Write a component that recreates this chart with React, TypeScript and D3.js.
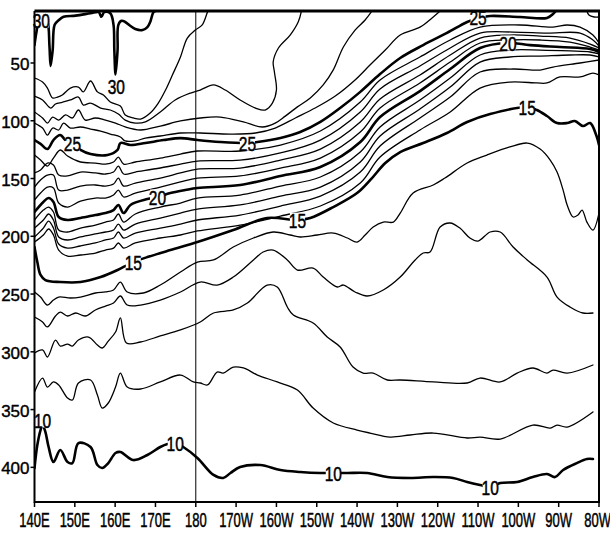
import React from 'react'
import * as d3 from 'd3'

type Pt = [number, number] // [longitude (deg E), depth (m)]

const lonTicks = [140, 150, 160, 170, 180, 190, 200, 210, 220, 230, 240, 250, 260, 270, 280]
const lonLabels = ['140E', '150E', '160E', '170E', '180', '170W', '160W', '150W', '140W', '130W', '120W', '110W', '100W', '90W', '80W']
const depthTicks = [50, 100, 150, 200, 250, 300, 350, 400]
const thickLevels = [10, 15, 20, 25, 30]

const iso30: Pt[] = [[140,34.5],[140.5,23],[141,16],[142.5,13],[143.2,14.5],[143.7,34.5],[144,52.6],[144.5,39],[145,17],[146,13],[147.2,10],[150.2,9],[153.9,7],[155.9,6],[156.6,10],[157.3,6],[158.8,7],[159.6,17],[159.8,39],[160.1,60],[160.6,39],[160.8,17],[161.6,13.5],[162.5,14.5],[163.8,18],[165,20.6],[166.8,21.5],[168,19],[168.7,14.5],[169.5,6],[170,5]]
const iso29: Pt[] = [[140,63],[142,66.5],[143.2,71.7],[144.5,80.3],[145.7,79.5],[146.9,77.7],[148.9,71.7],[150.9,70.8],[152.1,75],[153.9,65.6],[155.6,75],[157.1,77.7],[158.8,83.8],[161.3,87.3],[162.5,95],[164.5,97.6],[166.3,98.5],[168.7,93.3],[170.7,84.7],[172.5,73.4],[174.2,60.4],[176.2,44.8],[177.9,28.4],[179.9,21.5],[181.6,17],[182.9,6],[183.1,5]]
const iso28: Pt[] = [[140,78.6],[142,82],[144,89],[145.2,85.5],[146.9,84],[148.9,82],[150.9,79.5],[152.1,86.4],[153.9,84.7],[156.4,89],[158.8,90.7],[160.8,94.2],[162.5,99.4],[165,102],[167.5,101],[171.2,92.4],[174.9,82],[178.7,76],[181.1,73.4],[184.4,69],[187.3,73.4],[191,82],[194.8,89],[197.2,90.7],[199,84.7],[200,73.4],[199.5,57.8],[199.2,49],[200.5,37],[203.4,25.8],[205.4,14.5],[206.2,5]]
const iso27: Pt[] = [[140,92.4],[142,97.6],[143.2,102],[144.5,96.8],[146,99.4],[147.7,95],[149.4,97.6],[150.9,90.7],[152.6,99.4],[155.1,97.6],[157.6,99.4],[160.1,102],[162.5,105.4],[166.3,108],[171.2,104.6],[176.2,100.2],[181.1,97.6],[186.1,96.8],[191.8,101],[196.5,105.4],[199.7,102],[202.2,96],[205.2,88],[208.4,80.3],[211.6,69],[214.1,56],[216.6,36.2],[219.5,21.5],[222,12.8],[223.7,5]]
const iso26: Pt[] = [[140,102],[142,106.3],[143.2,112.4],[144.5,106.3],[146,108],[147.2,102],[148.9,106.3],[151.4,105.4],[153.9,107.2],[156.4,108.9],[158.8,111.5],[161.3,114.1],[162.5,117.5],[165,117.5],[167.5,115],[171.2,113.2],[176.2,110.6],[181.1,110.6],[188.6,111.5],[194.8,110.6],[199.7,106.3],[204.7,97.6],[209.6,89],[214.6,78.6],[219.5,64.7],[223.2,51.8],[227,38.8],[230.7,25.8],[235.6,19],[238.6,11],[240.6,5]]
const iso25: Pt[] = [[140,116.7],[141.5,120],[143.2,124.5],[144.7,116.7],[146.4,112.4],[147.7,116.7],[149.4,119.3],[151.4,125.3],[153.9,128.8],[158.1,129.7],[160.6,125.3],[161.3,119.3],[163.8,121],[167.5,119.3],[172,116.7],[176.2,115],[180.4,116.7],[186.1,118.4],[192.8,119.3],[195.3,118.4],[201,114.9],[205.9,109.8],[210.9,101],[215.8,89],[220.8,75],[225.7,59.6],[230.7,45.7],[236.4,34.5],[242.3,24],[247.3,14.5],[250,11],[253,9.3],[260.4,10.2],[267.1,11],[268.6,7.6],[269.3,5]]
const iso24: Pt[] = [[140,129.7],[141.5,134],[143.2,139.2],[144.7,132.3],[146.4,125.3],[148.2,130.5],[151.4,135.7],[155.1,136.6],[157.6,137.5],[159.6,135.7],[160.8,131.4],[162.1,137.5],[165,135.7],[171.2,132.3],[176.2,128.8],[180.4,126.2],[191,126.2],[201,121],[210.9,108.9],[220.8,83.8],[225.7,64.7],[235.6,44.8],[243.1,30.1],[250.5,18.9],[260.4,17.1],[268.6,18.9],[272.1,17.1],[275.3,18.9],[278.5,25.8],[280,32.7]]
const iso24Corner: Pt[] = [[277,5],[277.5,8.5],[278.8,10.2],[280,10.2]]
const iso23: Pt[] = [[140,145.2],[141.5,142.6],[143.2,136.6],[144.7,138.3],[146,147],[148.2,147.8],[151.4,144.4],[155.1,145.2],[157.6,146.1],[159.6,144.4],[160.8,139.2],[162.1,146.1],[165,144.4],[171.2,140.9],[176.2,137.5],[180.4,134.9],[191,134],[201,127.9],[210.9,116.7],[220.8,92.4],[225.7,72.5],[235.6,52.6],[243.1,37],[250.5,24.1],[258.7,23.2],[267.1,24.1],[275.3,24.1],[278.5,30.1],[280,35.3]]
const iso22: Pt[] = [[140,157.4],[141.5,151.3],[143.2,147],[144.7,147],[146,160],[148.2,160],[151.4,156.5],[155.1,155.6],[157.6,156.5],[159.6,154.8],[160.8,149.6],[162.1,156.5],[165,153.9],[171.2,149.6],[176.2,145.2],[180.4,141.8],[191,141],[201,134],[210.9,124.5],[220.8,101.1],[225.7,81.2],[235.6,60.4],[243.1,43.1],[250.5,28.4],[257.9,25.8],[265.4,26.7],[272.8,28.4],[277.8,33.6],[280,37]]
const iso21: Pt[] = [[140,168.6],[141.5,162.6],[143.2,157.4],[144.7,158.2],[146,171.2],[148.2,174.7],[151.4,169.5],[155.1,166.9],[157.6,166.9],[159.6,164.3],[160.8,160],[162.1,166],[165,162.6],[171.2,157.4],[176.2,153],[180.4,149.6],[191,147.8],[201,141],[210.9,132.3],[220.8,109.8],[225.7,89],[235.6,67.3],[243.1,49.2],[250.5,32.7],[257.9,30.1],[265.4,30.1],[272.8,31.9],[277.8,36.2],[280,38.8]]
const iso20: Pt[] = [[140,179],[142.2,170.3],[143.5,166.9],[144.7,170.3],[146,183.3],[148.2,185.9],[151.4,184.2],[155.1,181.6],[157.6,179.9],[159.6,177.3],[160.8,172.9],[162.1,179.9],[163.8,172.9],[168,167.8],[170.5,166],[173.7,162.6],[177.4,160],[180.4,158.2],[191,155.6],[201,147.8],[210.9,140],[220.8,118.4],[225.7,96.8],[235.6,74.3],[243.1,55.2],[250.5,37],[257.4,32.7],[262.9,34.5],[270.3,36.2],[277.8,37.9],[280,40.5]]
const iso19: Pt[] = [[140,185.9],[142.2,177.3],[143.5,174.7],[144.7,179],[146,194.6],[148.2,196.3],[151.4,192.9],[155.1,190.3],[157.6,187.7],[159.6,185.9],[160.8,180.7],[162.1,187.7],[165,180.7],[171.2,174.7],[176.2,171.2],[180.4,166.9],[191,164.3],[201,156.5],[210.9,148.7],[220.8,127.1],[225.7,105.4],[235.6,82.1],[243.1,63],[250.5,43.1],[257.9,38.8],[265.4,38.8],[272.8,39.6],[277.8,40.5],[280,42.2]]
const iso18: Pt[] = [[140,192.9],[142.2,185.9],[143.5,180.7],[144.7,185.9],[146,200.6],[148.2,203.2],[151.4,200.6],[155.1,198],[157.6,196.3],[159.6,194.6],[160.8,189.4],[162.1,194.6],[165,189.4],[171.2,184.2],[176.2,179.9],[180.4,176.4],[191,172.9],[201,165.2],[210.9,157.4],[220.8,135.7],[225.7,113.2],[235.6,89.8],[243.1,70.8],[250.5,49.2],[257.9,44.8],[265.4,44],[272.8,43.1],[277.8,43.1],[280,44.8]]
const iso17: Pt[] = [[140,200.6],[142.2,192.9],[143.5,186.8],[144.7,192.9],[146,206.7],[148.2,210.2],[151.4,208.4],[155.1,205.8],[157.6,203.2],[159.6,201.5],[160.8,196.3],[162.1,201.5],[165,197.2],[171.2,192.9],[176.2,189.4],[180.4,185.9],[191,181.6],[201,173.8],[210.9,165.2],[220.8,144.4],[225.7,121.9],[235.6,97.6],[243.1,79.5],[250.5,57.8],[258.7,55.2],[265.4,56.1],[268.6,53.5],[275.3,50],[280,47.4]]
const iso16: Pt[] = [[140,205],[142.2,198.9],[143.5,193.7],[144.7,198.9],[146,211.9],[148.2,217.1],[151.4,216.2],[155.1,214.5],[157.6,211.9],[159.6,210.2],[160.8,205.8],[162.1,210.2],[165,205.8],[171.2,201.5],[176.2,198.9],[180.4,195.4],[191,190.3],[201,182.5],[210.9,173.8],[220.8,153.9],[225.7,131.4],[235.6,108],[243.1,92.4],[250.5,71.7],[257.9,66.5],[264.6,67.3],[267.1,67.3],[270.3,62.1],[275.3,62.1],[278.5,58.7],[280,60.4]]
const iso15: Pt[] = [[140,209.3],[140.7,222.3],[141.5,233.5],[142.7,237.9],[146.4,239.6],[151.4,239.6],[156.4,235.3],[160.6,229.2],[163,224.9],[164.5,222.3],[168,218],[173.7,211.9],[180.4,205],[189.3,194.6],[197.7,184.2],[205.2,186],[208.4,184.2],[214.1,174.7],[220,162.6],[223.7,149.6],[227,136.6],[230.7,127.1],[236.4,119.3],[242.3,110.6],[247.3,101.1],[253,94.2],[262.2,88.1],[264.6,90.7],[267.1,95.9],[269.6,102],[272.1,102],[274,100.2],[276,104.6],[277.8,102],[279.3,112.4],[280,121]]
const iso14: Pt[] = [[140,248.2],[141.5,252.6],[143.2,259.5],[144.7,255.2],[146,252.6],[148.9,253.4],[151.4,252.6],[155.1,249.1],[157.6,248.2],[159.6,246.5],[161.3,239.6],[163,248.2],[167,249.1],[171.2,242.2],[176.2,230.9],[180.4,222.3],[184.4,220.5],[189.3,209.3],[194.3,201.5],[199.2,196.3],[203.4,198.9],[205.9,200.6],[210.1,198.9],[214.1,197.2],[217.6,201.5],[220,205],[222,198.9],[224,192],[226.5,187.7],[229,187.7],[230.7,179.9],[233.9,162.6],[238.9,155.6],[241.8,149.6],[247.3,136.6],[252.2,129.7],[257.9,122.7],[262.2,119.3],[265.4,124.5],[267.9,134],[269.6,144.4],[271.1,160],[272.1,172.9],[273.6,183.3],[274.8,181.6],[275.8,177.3],[277,187.7],[278.5,194.6],[280,179.9]]
const iso13: Pt[] = [[140,269.9],[142,274.2],[143.2,278.5],[145.2,269],[146.4,265.6],[148.2,269],[150.2,266.4],[152.6,269],[155.1,263.8],[157.6,260.4],[159.6,257.8],[161.3,251.7],[163,259.5],[166.3,259.5],[171.2,255.2],[176.2,248.2],[181.1,239.6],[185.3,242.2],[189.3,235.3],[194.3,220.5],[196.7,213.6],[199.2,211.9],[202.7,220.5],[205.2,229.2],[209.1,227.5],[211.6,235.3],[215.1,243.9],[216.6,242.2],[219.5,248.2],[222.5,251.7],[226.5,246.5],[230.7,235.3],[234.4,220.5],[236.4,214.5],[238.1,213.6],[240.6,192],[243.1,188.5],[245.5,192.9],[248,201.5],[250,204.1],[253,196.3],[255.5,196.3],[258.7,209.3],[262.2,220.5],[267.1,235.3],[269.6,252.6],[272.8,261.2],[276,266.4],[278.5,266.4]]
const iso12: Pt[] = [[140,301],[142,298.4],[143.2,304.5],[145.2,289.8],[146.4,295],[148.2,293.3],[149.4,295],[150.9,289.8],[153.4,287.2],[155.6,294.1],[156.8,296.7],[158.3,290.7],[160.1,282.9],[161.3,270.7],[162.8,292.4],[166.3,291.5],[171.2,286.3],[176.2,281.1],[181.1,274.2],[184.4,266.4],[189.3,263.8],[192.8,257.8],[197.7,242.2],[200.2,243.9],[202.7,261.2],[204.2,268.2],[209.1,275.1],[212.6,287.2],[215.8,295.8],[219,313.2],[221.5,318.4],[224,318.4],[227.5,324.4],[230.7,324.4],[238.9,326.1],[247.3,327],[250.5,322.7],[255.5,326.1],[259.7,318.4],[263.6,314],[267.1,318.4],[268.6,315.8],[272.1,318.4],[278.5,311.4]]
const iso11: Pt[] = [[140,334.8],[142,322.7],[143.2,330.5],[144.7,326.1],[146,328.7],[148.2,340],[149.4,341.7],[150.9,327],[153.9,324.4],[155.6,337.4],[156.8,348.7],[158.3,344.3],[160.1,330.5],[161.3,318.4],[163,330.5],[166.3,332.2],[171.2,326.1],[176.2,320.1],[179.4,326.1],[181.1,327],[182.9,328.7],[185.3,317.5],[186.8,318.4],[189.3,313.2],[191.8,314],[195.3,320.1],[200.2,326.1],[205.2,333.1],[209.1,348.7],[214.1,361.6],[220,367.7],[223.2,370.3],[228.2,373.8],[233.2,372],[238.9,370.3],[247.3,374.6],[250.5,373.8],[255.5,375.5],[263.6,363.4],[267.9,366],[269.6,363.4],[272.1,365.1],[278.5,352.1]]
const iso10: Pt[] = [[140,400.6],[140.7,380.7],[141.5,367.7],[142,363.4],[142.7,369.4],[143.5,382.4],[144.7,395.4],[146.4,385],[148.2,395.4],[149.4,396.3],[150.9,379],[153.9,382.4],[155.6,398],[156.8,400.6],[158.3,396.3],[160.1,387.6],[161.3,386.7],[164.5,393.7],[168,389.3],[171.2,382.4],[173,379.8],[174.9,379],[176.9,382.4],[180.4,391.9],[184.4,406.6],[186.8,409.2],[188.6,404.9],[191,399.7],[196,398],[201,402.3],[205.9,404],[210.9,404.9],[214.1,404.9],[217.6,404.9],[222.5,404.9],[227.5,408.4],[233.2,409.2],[238.9,408.4],[243.8,409.2],[247.3,412.7],[250.5,415.3],[253,417],[255.5,413.6],[259.7,412.7],[263.6,408.4],[267.1,405.8],[269.1,408.4],[271.1,402.3],[274.5,396.3],[277,392.8],[278.5,392.8]]

const isotherms: { level: number; lines: Pt[][] }[] = [
  { level: 30, lines: [iso30] },
  { level: 29, lines: [iso29] },
  { level: 28, lines: [iso28] },
  { level: 27, lines: [iso27] },
  { level: 26, lines: [iso26] },
  { level: 25, lines: [iso25] },
  { level: 24, lines: [iso24, iso24Corner] },
  { level: 23, lines: [iso23] },
  { level: 22, lines: [iso22] },
  { level: 21, lines: [iso21] },
  { level: 20, lines: [iso20] },
  { level: 19, lines: [iso19] },
  { level: 18, lines: [iso18] },
  { level: 17, lines: [iso17] },
  { level: 16, lines: [iso16] },
  { level: 15, lines: [iso15] },
  { level: 14, lines: [iso14] },
  { level: 13, lines: [iso13] },
  { level: 12, lines: [iso12] },
  { level: 11, lines: [iso11] },
  { level: 10, lines: [iso10] },
]

// in-line contour labels [lon, depth, text]
const contourLabels: [number, number, string][] = [
  [141.7, 12.8, '30'], [160.3, 70, '30'],
  [149.4, 119.3, '25'], [192.8, 119.3, '25'], [250, 10.2, '25'],
  [170.5, 166, '20'], [257.4, 32.7, '20'],
  [164.5, 222.3, '15'], [205.2, 186, '15'], [262.2, 88.1, '15'],
  [142, 359, '10'], [174.9, 379, '10'], [214.1, 405, '10'], [253, 417, '10'],
]

const FONT = "'Liberation Sans Narrow', 'Arial Narrow', sans-serif"

export default function App() {
  const W = 610
  const H = 533
  const x = d3.scaleLinear().domain([140, 280]).range([34.5, 599])
  const y = d3.scaleLinear().domain([5, 430]).range([11, 502])
  const [x0, x1] = x.range()
  const [y0, y1] = y.range()

  const line = d3.line<Pt>()
    .x(d => x(d[0]))
    .y(d => y(d[1]))
    .curve(d3.curveCatmullRom.alpha(0.5))

  // squeezed condensed lettering like the original plot
  const lonSqueeze = 0.65
  const approxWidth = (s: string) => {
    let w = 0
    for (const c of s) w += c === 'W' ? 15.5 : c === 'E' ? 10.9 : 9.1
    return w * lonSqueeze
  }

  return (
    <svg width={W} height={H} style={{ position: 'absolute', left: 0, top: 0, background: '#fff' }}>
      <defs>
        <clipPath id="plot">
          <rect x={x0} y={y0} width={x1 - x0} height={y1 - y0} />
        </clipPath>
      </defs>

      <g clipPath="url(#plot)" fill="none" stroke="#000" strokeLinejoin="round" strokeLinecap="round">
        {isotherms.map(iso =>
          iso.lines.map((pts, i) => (
            <path
              key={iso.level + '-' + i}
              d={line(pts) || ''}
              strokeWidth={thickLevels.includes(iso.level) ? 2.6 : 1.3}
            />
          ))
        )}
        {/* dateline */}
        <line x1={x(180)} x2={x(180)} y1={y0} y2={y1} strokeWidth={1} />
      </g>

      {/* contour labels, lines broken underneath */}
      <g fontFamily={FONT} fontSize={21}>
        {contourLabels.map((l, i) => {
          const cx = x(l[0])
          const cy = y(l[1])
          return (
            <g key={i} transform={`translate(${cx},${cy})`}>
              <rect x={-7.5} y={-7.5} width={15} height={15} fill="#fff" />
              <text transform="scale(0.74,1)" textAnchor="middle" y={7.6} fill="#000" stroke="#000" strokeWidth={0.5}>{l[2]}</text>
            </g>
          )
        })}
      </g>

      {/* frame */}
      <g fill="none" stroke="#000">
        <line x1={x0} x2={x1 + 1} y1={y0} y2={y0} strokeWidth={2.8} />
        <line x1={x1} x2={x1} y1={y0} y2={y1} strokeWidth={2} />
        <line x1={x0} x2={x1 + 1} y1={y1} y2={y1} strokeWidth={2} />
        <line x1={x0} x2={x0} y1={y0} y2={y1 + 1} strokeWidth={2} />
      </g>

      {/* depth axis */}
      <g fontFamily={FONT} fontSize={17} textAnchor="end" stroke="#000" strokeWidth={0.4}>
        {depthTicks.map(t => (
          <g key={t}>
            <line x1={x0 - 4} x2={x0} y1={y(t)} y2={y(t)} strokeWidth={1.5} />
            <text x={x0 - 5} y={y(t) + 7}>{t}</text>
          </g>
        ))}
      </g>

      {/* longitude axis */}
      <g fontFamily={FONT} fontSize={20} textAnchor="middle" stroke="#000">
        {lonTicks.map((t, i) => {
          const lx = Math.min(x(t), W - approxWidth(lonLabels[i]) / 2 - 1.5)
          return (
            <g key={t}>
              <line x1={x(t)} x2={x(t)} y1={y1} y2={y1 + 5} strokeWidth={1.5} />
              <text transform={`translate(${lx},527) scale(${lonSqueeze},1)`} strokeWidth={0.5}>{lonLabels[i]}</text>
            </g>
          )
        })}
      </g>
    </svg>
  )
}
